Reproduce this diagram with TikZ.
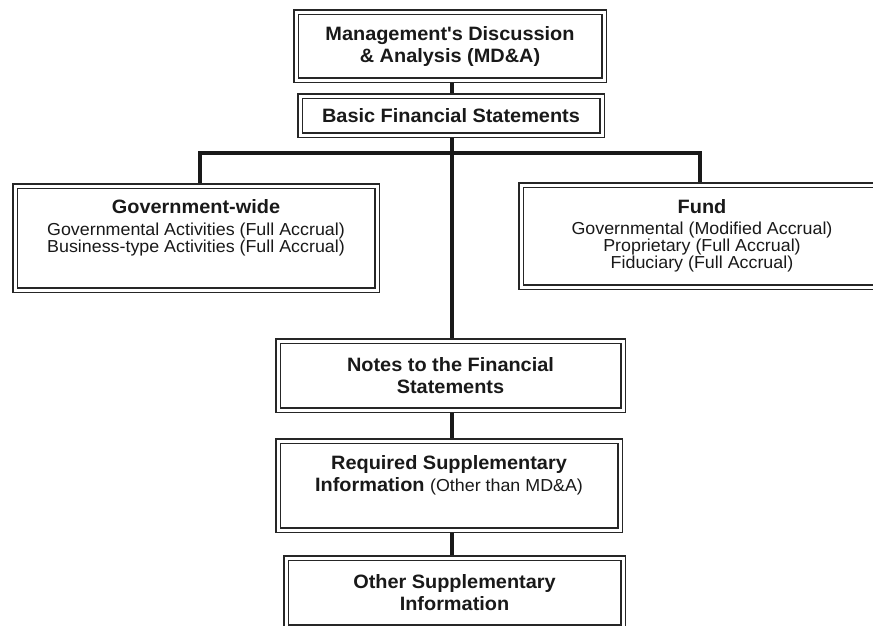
\documentclass[tikz,border=0pt]{standalone}
\usepackage{fontspec}
\setmainfont{Liberation Sans}[FakeStretch=1.03]
\usetikzlibrary{positioning, backgrounds}
\newcommand{\px}{0.75pt}
\newcommand{\hdfont}{\bfseries\fontsize{14.5}{16.5}\selectfont}
\newcommand{\bodyfont}{\mdseries\fontsize{13}{12.75}\selectfont}

\begin{document}
\begin{tikzpicture}[x=\px, y=-\px,
    stmt/.style={rectangle, draw=black!85, line width=1.5*\px, double=white, double distance=3*\px, fill=white, inner sep=0pt, align=center, text=black!90, font=\hdfont},
    detail/.style={stmt, font=\bodyfont},
    link/.style={draw, line width=3.5*\px, black!90}]
    \useasboundingbox (0,0) rectangle (873,625);
    \clip (0,0) rectangle (873,625);
    \node [stmt, minimum width=308*\px, minimum height=68*\px] (mda) at (450,46) {Management\textquotesingle s Discussion\\ \& Analysis (MD\&A)};
    \node [stmt, minimum width=302*\px, minimum height=39*\px] (basic) at (451,115.5) {Basic Financial Statements};
    \node [detail, minimum width=362*\px, minimum height=104*\px, text depth=18.5pt] (gov) at (196,238) {{\hdfont Government-wide}\\[3.75pt] Governmental Activities (Full Accrual)\\ Business-type Activities (Full Accrual)};
    \node [detail, minimum width=362*\px, minimum height=102*\px] (fund) at (702,236) {{\hdfont Fund}\\[3pt] Governmental (Modified Accrual)\\ Proprietary (Full Accrual)\\ Fiduciary (Full Accrual)};
    \node [stmt, minimum width=345*\px, minimum height=69*\px] (notes) at (450.5,375.5) {Notes to the Financial\\ Statements};
    \node [stmt, minimum width=342*\px, minimum height=89*\px, text depth=18.5pt] (rsi) at (449,485.5) {Required Supplementary\\ Information {\bodyfont (Other than MD\&A)}};
    \node [stmt, minimum width=337*\px, minimum height=69*\px] (osi) at (454.5,592.5) {Other Supplementary\\ Information};
    \coordinate (bar) at (452,153);
    \begin{scope}[on background layer]
        \path [link] (mda.south -| bar) -- (basic.north -| bar);
        \path [link] (basic.south -| bar) -- (notes.north -| bar);
        \path [link] (notes.south -| bar) -- (rsi.north -| bar);
        \path [link] (rsi.south -| bar) -- (osi.north -| bar);
        \path [link] ([xshift=4*\px]gov.north) |- (bar) -| ([xshift=-2*\px]fund.north);
    \end{scope}
\end{tikzpicture}
\end{document}
